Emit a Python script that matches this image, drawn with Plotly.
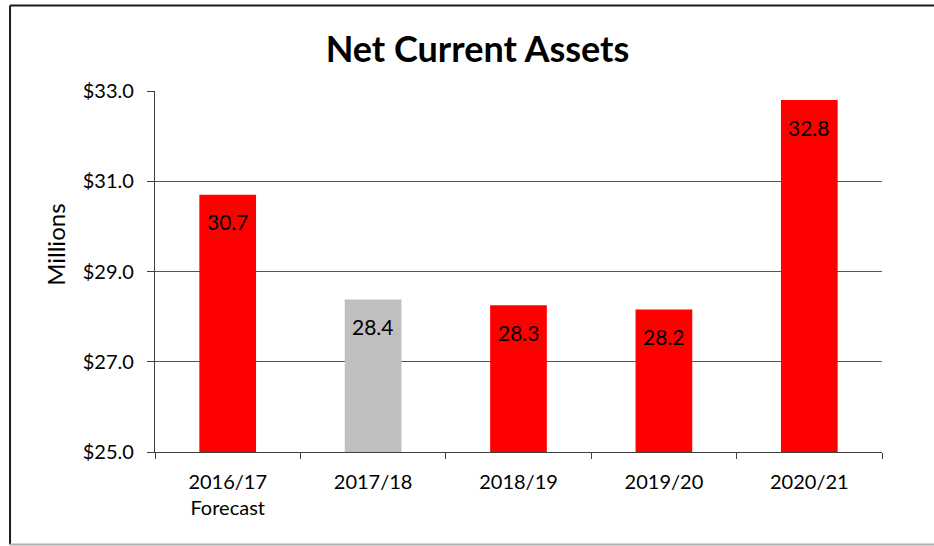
import plotly.graph_objects as go

categories = ["2016/17<br>Forecast", "2017/18", "2018/19", "2019/20", "2020/21"]
values = [30.7, 28.38, 28.25, 28.16, 32.8]
labels = ["30.7", "28.4", "28.3", "28.2", "32.8"]
colors = ["#FF0000", "#BFBFBF", "#FF0000", "#FF0000", "#FF0000"]
y_ticks = [25, 27, 29, 31, 33]
y_tick_text = ["$25.0", "$27.0", "$29.0", "$31.0", "$33.0"]

FONT = "Lato, 'Open Sans', sans-serif"

fig = go.Figure()
fig.add_trace(go.Bar(
    x=categories, y=values, marker=dict(color=colors, line=dict(width=0)),
    hoverinfo="skip", showlegend=False,
))

for c, v, t in zip(categories, values, labels):
    fig.add_annotation(x=c, y=v, text=t, showarrow=False, yshift=-27,
                       font=dict(family=FONT, size=21, color="#000000"))

# y-axis title
fig.add_annotation(xref="paper", yref="paper", x=-0.138, y=0.573, text="Millions",
                   textangle=-90, showarrow=False, xanchor="center", yanchor="middle",
                   font=dict(family=FONT, size=24, color="#000000"))

# frame of the screenshot (decorative)
fig.add_shape(type="line", xref="paper", yref="paper", x0=-0.1994, x1=1.08, y0=1.2368, y1=1.2368,
              line=dict(color="#1a1a1a", width=2))
fig.add_shape(type="line", xref="paper", yref="paper", x0=-0.1994, x1=-0.1994, y0=1.2368, y1=-0.2562,
              line=dict(color="#1a1a1a", width=2))
fig.add_shape(type="line", xref="paper", yref="paper", x0=-0.1994, x1=1.08, y0=-0.2562, y1=-0.2562,
              line=dict(color="#b0b0b0", width=2))

fig.update_layout(
    width=934, height=546,
    margin=dict(l=155, r=52, t=91, b=94),
    paper_bgcolor="white", plot_bgcolor="white",
    bargap=0.61,
    title=dict(text="<b>Net Current Assets</b>", x=0.4436, xref="paper", xanchor="center",
               y=0.91, yanchor="middle",
               font=dict(family=FONT, size=36, color="#000000")),
    font=dict(family=FONT, size=20, color="#000000"),
    xaxis=dict(
        showline=True, linecolor="#404040", linewidth=1.3,
        ticks="outside", tickson="boundaries", ticklen=6, tickcolor="#404040", tickwidth=1.3,
        showgrid=False, tickfont=dict(family=FONT, size=20, color="#000000"),
        ticklabelstandoff=12,
    ),
    yaxis=dict(
        range=[25, 33], tickvals=y_ticks, ticktext=y_tick_text,
        showline=True, linecolor="#404040", linewidth=1.3,
        ticks="outside", ticklen=7, tickcolor="#404040", tickwidth=1.3,
        showgrid=True, gridcolor="#555555", gridwidth=1.3,
        zeroline=False, tickfont=dict(family=FONT, size=20, color="#000000"),
        ticklabelstandoff=9,
    ),
)

fig.write_html("out.html", config={"displayModeBar": False},
               post_script="document.body.style.margin='0px';")
